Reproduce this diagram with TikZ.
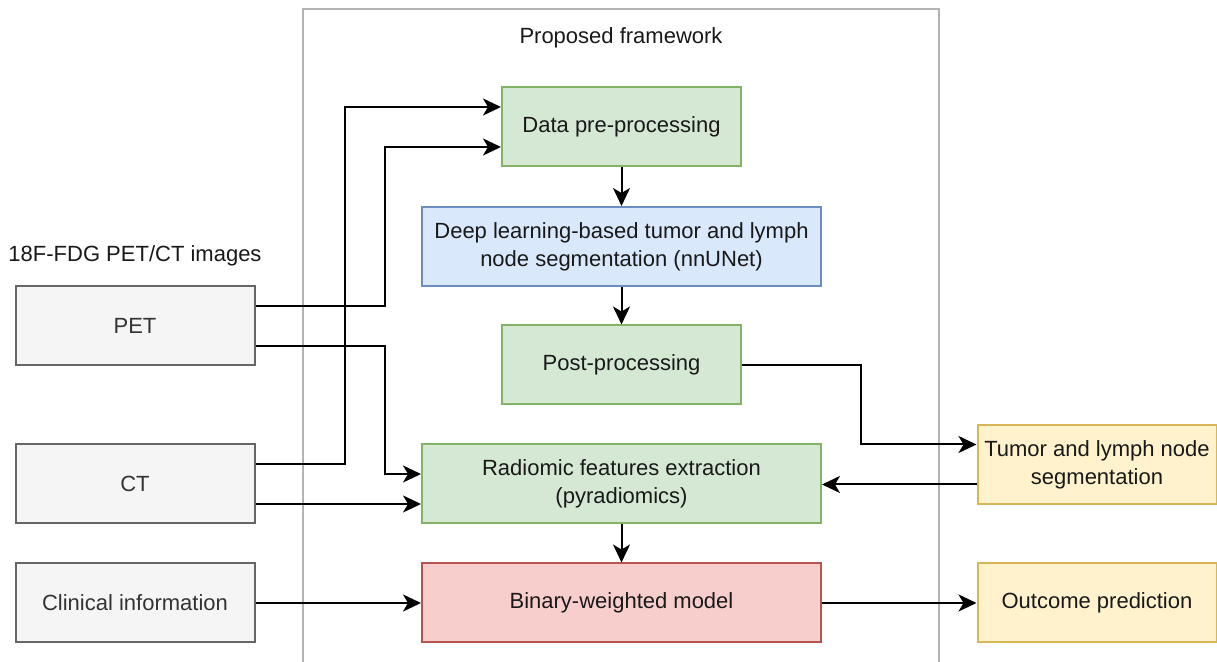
\documentclass[tikz,border=0pt]{standalone}
\usepackage{fontspec}
\setmainfont{Liberation Sans}
\usepackage{tikz}
\usetikzlibrary{arrows.meta,positioning,calc}
\usepackage{xcolor}
\definecolor{grnfill}{HTML}{D5E8D4}
\definecolor{grnline}{HTML}{82B366}
\definecolor{blufill}{HTML}{DAE8FC}
\definecolor{bluline}{HTML}{6C8EBF}
\definecolor{redfill}{HTML}{F8CECC}
\definecolor{redline}{HTML}{B85450}
\definecolor{ylwfill}{HTML}{FFF2CC}
\definecolor{ylwline}{HTML}{D6B656}
\definecolor{gryfill}{HTML}{F5F5F5}
\definecolor{gryline}{HTML}{666666}
\definecolor{grytext}{HTML}{333333}
\definecolor{frameline}{HTML}{B3B3B3}
\tikzset{
  box/.style={draw,line width=1pt,minimum height=39.5pt,align=center,
    font=\fontsize{11}{14}\selectfont,text=black!90},
  smallbox/.style={box,minimum width=119.5pt},
  widebox/.style={box,minimum width=199.5pt},
  procbox/.style={smallbox,draw=grnline,fill=grnfill},
  inbox/.style={smallbox,draw=gryline,fill=gryfill,text=grytext},
  outbox/.style={smallbox,draw=ylwline,fill=ylwfill},
  arr/.style={draw=black,line width=1pt,-{Stealth[length=9pt,width=8.5pt,inset=2.5pt]}},
}
\begin{document}
\begin{tikzpicture}[x=0.5pt,y=-0.5pt]
  \clip (0,0) rectangle (1217,662);
  \fill[white] (0,0) rectangle (1217,662);
  \draw[frameline,line width=0.8pt] (303,9) rectangle (939,700);
  \node[font=\fontsize{11}{14}\selectfont,text=black!90] (title) at (621,38) {Proposed framework};
  \node[font=\fontsize{11}{14}\selectfont,text=black!90] (imgs) at (135,256) {18F-FDG PET/CT images};

  \node[procbox] (data) at (621.5,127) {Data pre-processing};
  \node[widebox,draw=bluline,fill=blufill] (dl) at (621.5,246.5) {Deep learning-based tumor and lymph\\node segmentation (nnUNet)};
  \node[procbox] (post) at (621.5,365) {Post-processing};
  \node[widebox,draw=grnline,fill=grnfill] (rad) at (621.5,484) {Radiomic features extraction\\(pyradiomics)};
  \node[widebox,draw=redline,fill=redfill] (model) at (621.5,603) {Binary-weighted model};

  \node[inbox] (pet) at (135,326) {PET};
  \node[inbox] (ct) at (135,484) {CT};
  \node[inbox] (clin) at (135,603) {Clinical information};

  \node[outbox] (seg) at (1097,464.5) {Tumor and lymph node\\segmentation};
  \node[outbox] (outc) at (1097,603) {Outcome prediction};

  \draw[arr] ([yshift=10pt]pet.east) -- ++(129.5,0) |- ([yshift=-10pt]data.west);
  \draw[arr] ([yshift=10pt]ct.east) -- ++(89.5,0) |- ([yshift=10pt]data.west);
  \draw[arr] ([yshift=-10pt]pet.east) -- ++(129.5,0) |- ([yshift=5pt]rad.west);
  \draw[arr] ([yshift=-10pt]ct.east) -- ([yshift=-10pt]ct.east -| rad.west);
  \draw[arr] (data) -- (dl);
  \draw[arr] (dl) -- (post);
  \draw[arr] (post.east) -- ++(118.5,0) |- ([yshift=10pt]seg.west);
  \draw[arr] ([yshift=-10pt]seg.west) -- ([yshift=-10pt]seg.west -| rad.east);
  \draw[arr] (rad) -- (model);
  \draw[arr] (clin) -- (model);
  \draw[arr] (model) -- (outc);
\end{tikzpicture}
\end{document}
